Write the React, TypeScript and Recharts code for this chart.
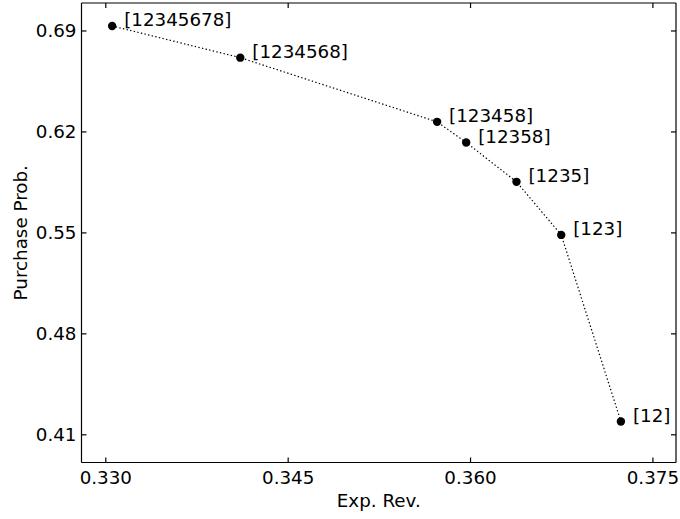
import {
  ScatterChart,
  Scatter,
  XAxis,
  YAxis,
  Label,
} from "recharts";

// expected revenue / purchase probability for each offered subset
const subsets = ["[12345678]", "[1234568]", "[123458]", "[12358]", "[1235]", "[123]", "[12]"];
const expRevenue = [0.33052, 0.34106, 0.35725, 0.35964, 0.36378, 0.36746, 0.37237];
const purchaseProb = [0.6935, 0.6715, 0.627, 0.6127, 0.5854, 0.5486, 0.4192];

const xTicks = [0.33, 0.345, 0.36, 0.375];
const yTicks = [0.41, 0.48, 0.55, 0.62, 0.69];
const xDomain = [0.328, 0.3769];
const yDomain = [0.3908, 0.7094];

const data = subsets.map((label, i) => ({
  x: expRevenue[i],
  y: purchaseProb[i],
  label,
}));

const FONT = "'DejaVu Sans', sans-serif";
const FS = 18.3;
const TICK = 5;

const BottomTick = (props: any) => {
  const { x, y, payload } = props;
  return (
    <g>
      <line x1={x} x2={x} y1={y} y2={y - TICK} stroke="#000" strokeWidth={1.2} />
      <text x={x} y={y + 21} textAnchor="middle" fontFamily={FONT} fontSize={FS} fill="#000">
        {Number(payload.value).toFixed(3)}
      </text>
    </g>
  );
};

const TopTick = (props: any) => {
  const { x, y } = props;
  return <line x1={x} x2={x} y1={y} y2={y + TICK} stroke="#000" strokeWidth={1.2} />;
};

const LeftTick = (props: any) => {
  const { x, y, payload } = props;
  return (
    <g>
      <line x1={x} x2={x + TICK} y1={y} y2={y} stroke="#000" strokeWidth={1.2} />
      <text
        x={x - 5}
        y={y}
        textAnchor="end"
        dominantBaseline="central"
        fontFamily={FONT}
        fontSize={FS}
        fill="#000"
      >
        {Number(payload.value).toFixed(2)}
      </text>
    </g>
  );
};

const RightTick = (props: any) => {
  const { x, y } = props;
  return <line x1={x} x2={x - TICK} y1={y} y2={y} stroke="#000" strokeWidth={1.2} />;
};

const PointWithLabel = (props: any) => {
  const { cx, cy, payload } = props;
  return (
    <g>
      <circle cx={cx} cy={cy} r={4.2} fill="#000" />
      <text
        x={cx + 12}
        y={cy - 6}
        dominantBaseline="central"
        fontFamily={FONT}
        fontSize={FS}
        fill="#000"
      >
        {payload.label}
      </text>
    </g>
  );
};

const NoPoint = () => null;

const XTitle = (props: any) => {
  const { viewBox } = props;
  return (
    <text
      x={viewBox.x + viewBox.width / 2}
      y={viewBox.y + 44}
      textAnchor="middle"
      fontFamily={FONT}
      fontSize={FS}
      fill="#000"
    >
      Exp. Rev.
    </text>
  );
};

const YTitle = (props: any) => {
  const { viewBox } = props;
  const cx = viewBox.x + 20;
  const cy = viewBox.y + viewBox.height / 2;
  return (
    <text
      x={cx}
      y={cy}
      textAnchor="middle"
      dominantBaseline="central"
      transform={`rotate(-90 ${cx} ${cy})`}
      fontFamily={FONT}
      fontSize={FS}
      fill="#000"
    >
      Purchase Prob.
    </text>
  );
};

const axisLine = { stroke: "#000", strokeWidth: 1.2 };

export default function App() {
  return (
    <div style={{ width: 680, height: 519, background: "#fff" }}>
      <style>{"body{margin:0}"}</style>
      <ScatterChart width={680} height={519} margin={{ top: 2, right: 3, bottom: 0, left: 0 }}>
        <XAxis
          xAxisId="b"
          dataKey="x"
          type="number"
          orientation="bottom"
          domain={xDomain}
          ticks={xTicks}
          interval={0}
          height={56.5}
          tickSize={0}
          tickMargin={0}
          tickLine={false}
          axisLine={axisLine}
          tick={<BottomTick />}
          allowDataOverflow
        >
          <Label position="center" content={<XTitle />} />
        </XAxis>
        <XAxis
          xAxisId="t"
          dataKey="x"
          type="number"
          orientation="top"
          domain={xDomain}
          ticks={xTicks}
          interval={0}
          height={1}
          tickSize={0}
          tickMargin={0}
          tickLine={false}
          axisLine={axisLine}
          tick={<TopTick />}
          allowDataOverflow
        />
        <YAxis
          yAxisId="l"
          dataKey="y"
          type="number"
          orientation="left"
          domain={yDomain}
          ticks={yTicks}
          interval={0}
          width={81.5}
          tickSize={0}
          tickMargin={0}
          tickLine={false}
          axisLine={axisLine}
          tick={<LeftTick />}
          allowDataOverflow
        >
          <Label position="center" content={<YTitle />} />
        </YAxis>
        <YAxis
          yAxisId="r"
          dataKey="y"
          type="number"
          orientation="right"
          domain={yDomain}
          ticks={yTicks}
          interval={0}
          width={1}
          tickSize={0}
          tickMargin={0}
          tickLine={false}
          axisLine={axisLine}
          tick={<RightTick />}
          allowDataOverflow
        />
        <Scatter
          xAxisId="t"
          yAxisId="r"
          data={data}
          shape={<NoPoint />}
          isAnimationActive={false}
        />
        <Scatter
          xAxisId="b"
          yAxisId="l"
          data={data}
          line={{ stroke: "#000", strokeWidth: 1.2, strokeDasharray: "1.4 2.3" }}
          lineType="joint"
          shape={<PointWithLabel />}
          isAnimationActive={false}
        />
      </ScatterChart>
    </div>
  );
}
